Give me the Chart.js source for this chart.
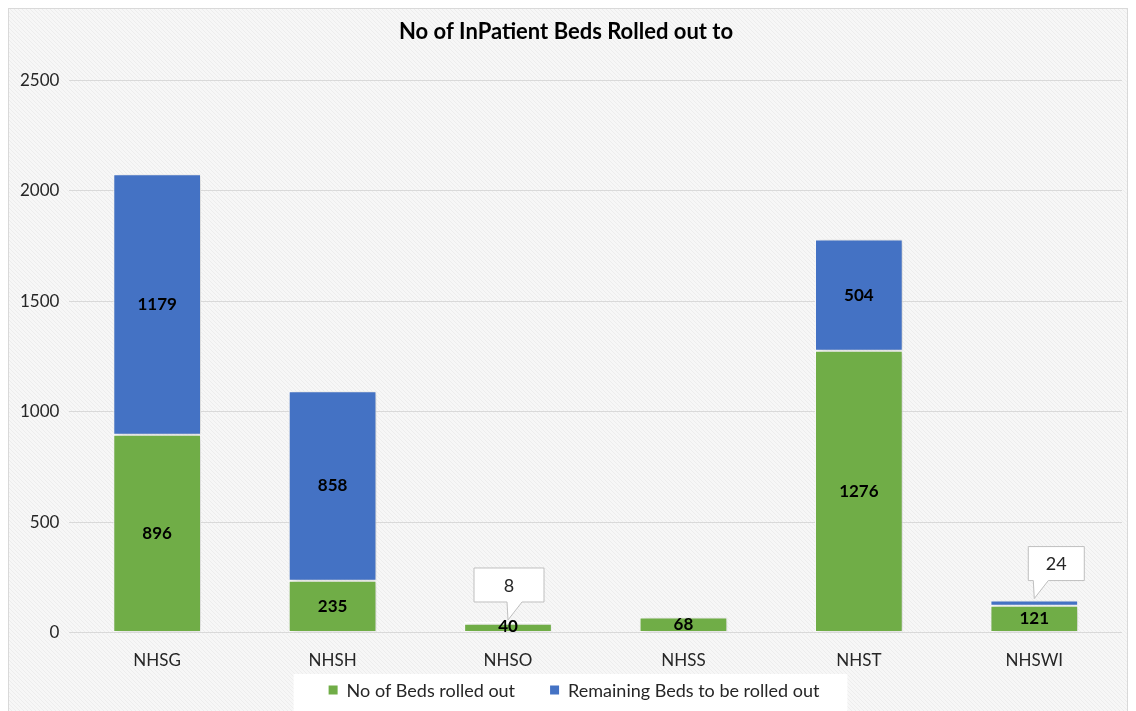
<!DOCTYPE html>
<html>
<head>
<meta charset="utf-8">
<script src="https://cdn.jsdelivr.net/npm/chart.js@4/dist/chart.umd.min.js"></script>
<style>
  html, body { margin: 0; padding: 0; background: #fff; }
  #wrap { position: relative; width: 1136px; height: 711px; }
</style>
</head>
<body>
<div id="wrap"><canvas id="bedsChart" width="1136" height="711"></canvas></div>
<script>
// Datos
const categories = ['NHSG', 'NHSH', 'NHSO', 'NHSS', 'NHST', 'NHSWI'];
const rolledOut = [896, 235, 40, 68, 1276, 121];
const remaining = [1179, 858, 8, 0, 504, 24];
const yTicks = [0, 500, 1000, 1500, 2000, 2500];

const FONT = 'Lato, "Open Sans", sans-serif';

// Fondo con rayas diagonales, marco y leyenda propia
const backgroundPlugin = {
    id: 'stripedBg',
    beforeDraw(chart) {
        const ctx = chart.ctx;
        const w = chart.width, h = chart.height;
        ctx.save();
        ctx.fillStyle = '#ffffff';
        ctx.fillRect(0, 0, w, h);
        ctx.fillStyle = '#f7f7f7';
        ctx.fillRect(8, 8, w - 16, h - 8);
        ctx.save();
        ctx.beginPath();
        ctx.rect(8, 8, w - 16, h);
        ctx.clip();
        ctx.strokeStyle = '#ededed';
        ctx.lineWidth = 1;
        ctx.beginPath();
        for (let d = -h; d < w + h; d += 4) {
            ctx.moveTo(d, 8);
            ctx.lineTo(d + h, h + 8);
        }
        ctx.stroke();
        ctx.restore();
        ctx.strokeStyle = '#d9d9d9';
        ctx.strokeRect(8.5, 8.5, w - 17, h);

        // leyenda
        ctx.font = '18px ' + FONT;
        const items = chart.data.datasets.map(ds => ({ text: ds.label, color: ds.backgroundColor }));
        const gap = 35, box = 9, textGap = 9;
        const widths = items.map(it => box + textGap + ctx.measureText(it.text).width);
        const total = widths.reduce((a, b) => a + b, 0) + gap * (items.length - 1);
        const cx = w / 2 + 6;
        let x = cx - total / 2;
        const y = h - 21;
        ctx.fillStyle = '#ffffff';
        ctx.fillRect(x - 35, y - 16, total + 63, 40);
        ctx.textBaseline = 'middle';
        ctx.textAlign = 'left';
        items.forEach((it, i) => {
            ctx.fillStyle = it.color;
            ctx.fillRect(x, y - box / 2, box, box);
            ctx.fillStyle = '#262626';
            ctx.fillText(it.text, x + box + textGap, y + 1);
            x += widths[i] + gap;
        });
        ctx.restore();
    },
    beforeDatasetsDraw(chart) {
        const ctx = chart.ctx;
        ctx.save();
        ctx.shadowColor = 'rgba(0,0,0,0.18)';
        ctx.shadowBlur = 8;
        ctx.shadowOffsetX = 3;
        ctx.shadowOffsetY = 1;
    },
    afterDatasetsDraw(chart) {
        chart.ctx.restore();
    }
};

// Etiquetas de valores y globos para valores pequeños
const labelPlugin = {
    id: 'valueLabels',
    afterDatasetsDraw(chart) {
        const ctx = chart.ctx;
        ctx.save();
        ctx.textAlign = 'center';
        ctx.textBaseline = 'middle';
        chart.data.datasets.forEach((ds, di) => {
            const meta = chart.getDatasetMeta(di);
            meta.data.forEach((bar, i) => {
                const v = ds.data[i];
                if (!v) return;
                if (di === 1 && v < 50) {
                    // globo
                    const tipX = bar.x, tipY = bar.y - 2;
                    const bw = i === 5 ? 56 : 70;
                    const cx = bar.x + (i === 5 ? 22 : 1);
                    const bx = cx - bw / 2, bh = 34, by = tipY - 18 - bh;
                    ctx.beginPath();
                    ctx.moveTo(bx, by);
                    ctx.lineTo(bx + bw, by);
                    ctx.lineTo(bx + bw, by + bh);
                    ctx.lineTo(tipX + 14, by + bh);
                    ctx.lineTo(tipX, tipY);
                    ctx.lineTo(tipX - 1, by + bh);
                    ctx.lineTo(bx, by + bh);
                    ctx.closePath();
                    ctx.fillStyle = '#ffffff';
                    ctx.fill();
                    ctx.strokeStyle = '#bfbfbf';
                    ctx.lineWidth = 1;
                    ctx.stroke();
                    ctx.fillStyle = '#262626';
                    ctx.font = '18px ' + FONT;
                    ctx.fillText(String(v), cx, by + bh / 2 + 1);
                    return;
                }
                const mid = (bar.y + bar.base) / 2;
                ctx.fillStyle = '#000000';
                ctx.font = 'bold 17px ' + FONT;
                ctx.fillText(String(v), bar.x, Math.min(mid, bar.base - 6));
            });
        });
        ctx.restore();
    }
};

const ctx = document.getElementById('bedsChart').getContext('2d');
new Chart(ctx, {
    type: 'bar',
    data: {
        labels: categories,
        datasets: [
            {
                label: 'No of Beds rolled out',
                data: rolledOut,
                backgroundColor: '#70ad47',
                borderColor: '#ffffff',
                borderWidth: 1,
                borderSkipped: false,
                categoryPercentage: 1,
                barPercentage: 0.5
            },
            {
                label: 'Remaining Beds to be rolled out',
                data: remaining,
                backgroundColor: '#4472c4',
                borderColor: '#ffffff',
                borderWidth: 1,
                borderSkipped: false,
                categoryPercentage: 1,
                barPercentage: 0.5
            }
        ]
    },
    options: {
        responsive: false,
        animation: false,
        layout: { padding: { left: 10, right: 14, top: 7, bottom: 30 } },
        plugins: {
            title: {
                display: true,
                text: 'No of InPatient Beds Rolled out to',
                color: '#000000',
                font: { family: FONT, size: 22, weight: 'bold' },
                padding: { top: 12, bottom: 35 }
            },
            legend: { display: false },
            tooltip: { enabled: false }
        },
        scales: {
            x: {
                stacked: true,
                grid: { display: false },
                border: { display: false },
                ticks: {
                    color: '#262626',
                    font: { family: FONT, size: 17 },
                    padding: 10
                }
            },
            y: {
                stacked: true,
                min: 0,
                max: 2500,
                afterBuildTicks(axis) {
                    axis.ticks = yTicks.map(v => ({ value: v }));
                },
                grid: { color: '#d9d9d9', drawTicks: false },
                border: { display: false },
                ticks: {
                    color: '#262626',
                    font: { family: FONT, size: 17 },
                    padding: 10,
                    callback: v => String(v)
                }
            }
        }
    },
    plugins: [backgroundPlugin, labelPlugin]
});
</script>
</body>
</html>
